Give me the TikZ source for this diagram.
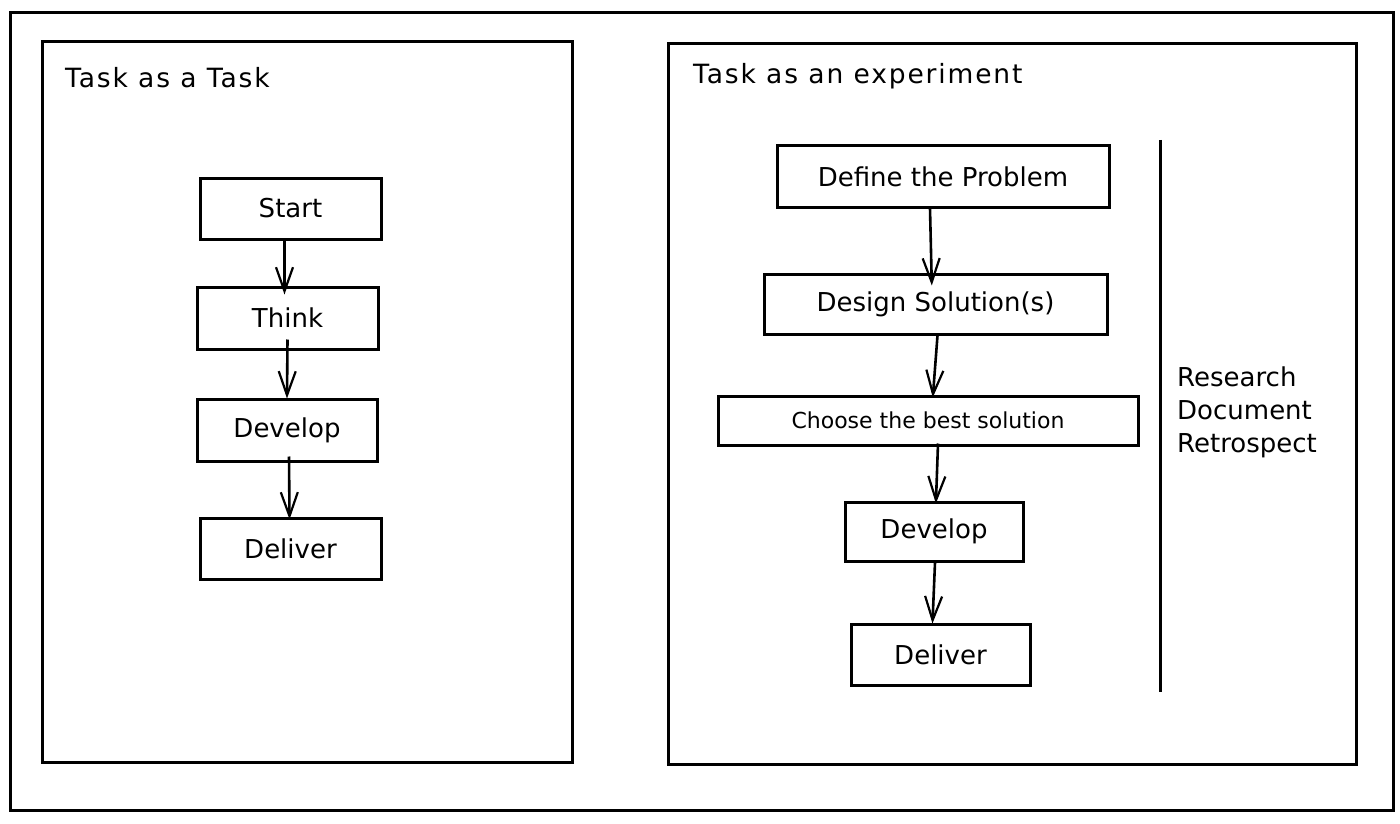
\documentclass[tikz,border=0pt]{standalone}
\usepackage{fontspec}
\setmainfont{DejaVu Sans}
\newfontfamily\spaced[LetterSpace=7]{DejaVu Sans}
\usetikzlibrary{arrows.meta}
\tikzset{
  frame/.style={draw, line width=3pt, inner sep=0pt},
  box/.style={draw, line width=3pt, inner sep=0pt, font=\fontsize{26}{30}\selectfont},
  arr/.style={-{Straight Barb[length=24pt,width=17pt,line width=2.2pt]}, line width=2.6pt},
  title/.style={anchor=west, inner sep=0pt, font=\spaced\fontsize{26.5}{30}\selectfont},
}
\begin{document}
\begin{tikzpicture}[x=1pt,y=-1pt]
\useasboundingbox[fill=white] (0,0) rectangle (1400,824);
% frames
\node[frame, minimum width=1383pt, minimum height=797pt] (outer) at (701.5,411.5) {};
\node[frame, minimum width=530pt, minimum height=720pt] (left) at (307,402) {};
\node[frame, minimum width=688pt, minimum height=720pt] (right) at (1012,404) {};
% titles
\node[title] (t1) at (65,78) {Task as a Task};
\node[title] (t2) at (693,76) {Task as an experiment};
% left flow
\node[box, minimum width=181pt, minimum height=61pt] (start) at (290.5,208.5) {Start};
\node[box, minimum width=181pt, minimum height=62pt] (think) at (287.5,318) {Think};
\node[box, minimum width=180pt, minimum height=62pt] (dev1) at (287,430) {Develop};
\node[box, minimum width=181pt, minimum height=61pt] (del1) at (290.5,548.5) {Deliver};
\draw[arr, shorten >=-9pt] ([xshift=-6pt]start.south) -- ([xshift=-3pt]think.north);
\draw[arr, shorten >=-1pt] ([yshift=11pt]think.south) -- (dev1.north);
\draw[arr, shorten >=-3pt] ([xshift=2pt,yshift=6pt]dev1.south) -- ([xshift=-1pt]del1.north);
% right flow
\node[box, minimum width=332pt, minimum height=61pt] (define) at (943,176.5) {Define the Problem};
\node[box, minimum width=343pt, minimum height=60pt] (design) at (935.5,304) {Design Solution(s)};
\node[box, minimum width=420pt, minimum height=49pt, font=\fontsize{22}{26}\selectfont] (choose) at (928,420.5) {Choose the best solution};
\node[box, minimum width=178pt, minimum height=59pt] (dev2) at (934,531.5) {Develop};
\node[box, minimum width=179pt, minimum height=61pt] (del2) at (940.5,654.5) {Deliver};
\draw[arr, shorten >=-13pt] ([xshift=-13pt]define.south) -- ([xshift=-4pt]design.north);
\draw[arr, shorten >=-3pt] ([xshift=2pt]design.south) -- ([xshift=5pt]choose.north);
\draw[arr, shorten >=-3pt] ([xshift=10pt,yshift=3pt]choose.south) -- ([xshift=2pt]dev2.north);
\draw[arr, shorten >=-1pt] ([xshift=1pt]dev2.south) -- ([xshift=-8pt]del2.north);
% side line and notes
\coordinate (lt) at (1160,140);
\coordinate (lb) at (1160,692);
\draw[line width=3pt] (lt) -- (lb);
\node[anchor=north west, align=left, inner sep=0pt, font=\fontsize{26}{33}\selectfont] (notes) at (1177,367) {Research\\Document\\Retrospect};
\end{tikzpicture}
\end{document}
